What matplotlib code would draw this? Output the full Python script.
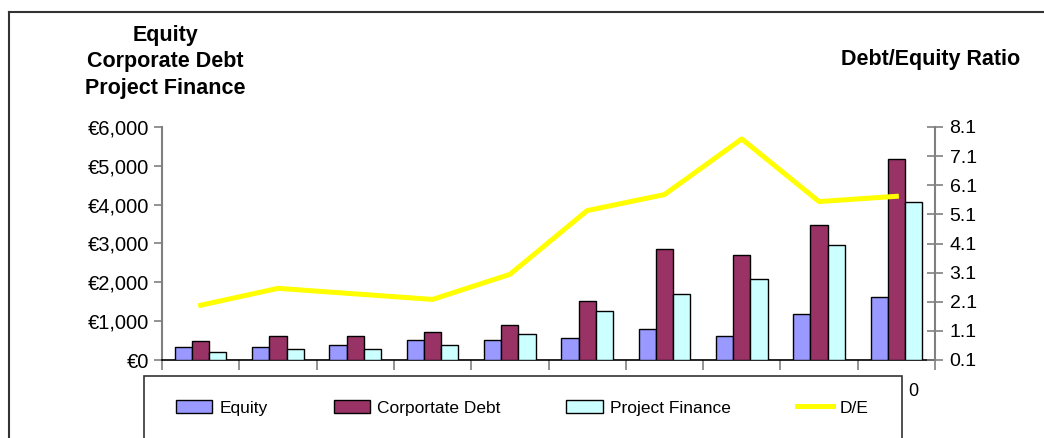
import numpy as np
import matplotlib
matplotlib.use("Agg")
import matplotlib.pyplot as plt
from matplotlib.lines import Line2D
from matplotlib.patches import Patch, Rectangle
from matplotlib.ticker import FuncFormatter, FixedLocator

plt.rcParams['font.family'] = ['Liberation Sans', 'DejaVu Sans']

# values (euro amounts, and the debt/equity ratio)
years = list(range(10))
equity = [340, 340, 378, 515, 515, 556, 798, 626, 1185, 1630]
corp_debt = [490, 618, 618, 729, 901, 1527, 2849, 2712, 3467, 5166]
proj_fin = [215, 275, 275, 378, 659, 1252, 1700, 2076, 2951, 4069]
de_ratio = [1.98, 2.56, 2.37, 2.18, 3.04, 5.23, 5.78, 7.69, 5.54, 5.72]

left_ticks = [0, 1000, 2000, 3000, 4000, 5000, 6000]
right_ticks = [0.1, 1.1, 2.1, 3.1, 4.1, 5.1, 6.1, 7.1, 8.1]

W, H = 1044, 438
fig = plt.figure(figsize=(W / 100, H / 100), dpi=100)

# axes in pixel positions of the original
x0, x1, ytop, ybot = 162, 935, 127, 360
ax = fig.add_axes([x0 / W, (H - ybot) / H, (x1 - x0) / W, (ybot - ytop) / H])

x = np.arange(len(years))
bw = 1 / 4.5
ax.bar(x - bw, equity, bw, color='#9999FF', edgecolor='black', linewidth=1.0, label='Equity', zorder=3)
ax.bar(x, corp_debt, bw, color='#993366', edgecolor='black', linewidth=1.0, label='Corportate Debt', zorder=3)
ax.bar(x + bw, proj_fin, bw, color='#CCFFFF', edgecolor='black', linewidth=1.0, label='Project Finance', zorder=3)

ax.set_xlim(-0.5, len(years) - 0.5)
ax.set_ylim(0, 6000)
ax.yaxis.set_major_locator(FixedLocator(left_ticks))
ax.yaxis.set_major_formatter(FuncFormatter(lambda v, p: '€' + format(int(v), ',')))
ax.xaxis.set_major_locator(FixedLocator(np.arange(-0.5, len(years), 1.0)))
ax.set_xticklabels([])
ax.tick_params(axis='x', direction='out', length=7, color='#808080', width=1.2)
ax.tick_params(axis='y', direction='out', length=6, color='#808080', width=1.2,
               labelsize=14.5, pad=3)
for s in ['top', 'right']:
    ax.spines[s].set_visible(False)
ax.spines['left'].set_color('#808080')
ax.spines['left'].set_linewidth(1.5)
ax.spines['bottom'].set_color('black')
ax.spines['bottom'].set_linewidth(1.2)

ax2 = ax.twinx()
ax2.plot(x, de_ratio, color='#FFFF00', linewidth=3.6, label='D/E', zorder=4)
ax2.set_ylim(0.1, 8.1)
ax2.yaxis.set_major_locator(FixedLocator(right_ticks))
ax2.yaxis.set_major_formatter(FuncFormatter(lambda v, p: f'{v:.1f}'))
ax2.tick_params(axis='y', direction='inout', length=11, color='#808080', width=1.2,
                labelsize=14, pad=5)
for s in ['top', 'left', 'bottom']:
    ax2.spines[s].set_visible(False)
ax2.spines['right'].set_color('#808080')
ax2.spines['right'].set_linewidth(1.5)

# axis titles
fig.text(165 / W, 1 - 62 / H, 'Equity\nCorporate Debt\nProject Finance', ha='center', va='center',
         fontsize=15.5, fontweight='bold', linespacing=1.35)
fig.text(931 / W, 1 - 60 / H, 'Debt/Equity Ratio', ha='center', va='center',
         fontsize=15.5, fontweight='bold')

# outer chart frame
fig.add_artist(Line2D([9 / W, 1.0], [1 - 12 / H, 1 - 12 / H], color='#333333', linewidth=1.5,
                      transform=fig.transFigure))
fig.add_artist(Line2D([9 / W, 9 / W], [0, 1 - 12 / H], color='#333333', linewidth=1.5,
                      transform=fig.transFigure))

# legend box
fig.add_artist(Rectangle((144 / W, -0.05), (902 - 144) / W, 0.05 + (H - 376) / H,
                         transform=fig.transFigure, fill=False, edgecolor='#333333', linewidth=1.2))
handles = [Patch(facecolor='#9999FF', edgecolor='black'),
           Patch(facecolor='#993366', edgecolor='black'),
           Patch(facecolor='#CCFFFF', edgecolor='black'),
           Line2D([], [], color='#FFFF00', linewidth=3.6)]
labels = ['Equity', 'Corportate Debt', 'Project Finance', 'D/E']
fig.legend(handles, labels, loc='center left', bbox_to_anchor=(176 / W, 1 - 408 / H), ncol=4,
           frameon=False, fontsize=12.5, handlelength=2.1, handleheight=0.7, handletextpad=0.4,
           columnspacing=3.8, borderaxespad=0, borderpad=0)
fig.text(908 / W, 1 - 392 / H, '0', ha='left', va='center', fontsize=13)

fig.savefig('out.png', dpi=100)
